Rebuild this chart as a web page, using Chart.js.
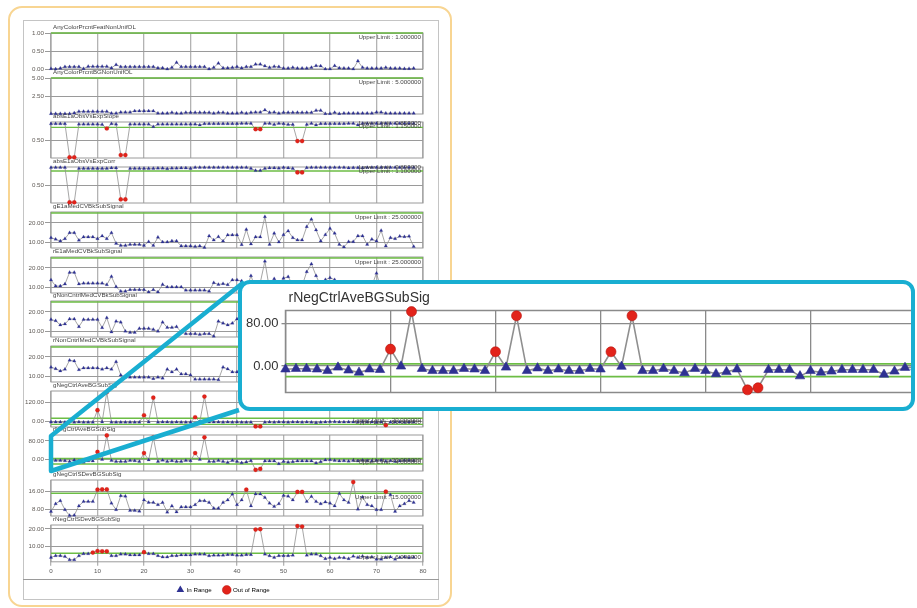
<!DOCTYPE html>
<html>
<head>
<meta charset="utf-8">
<script src="https://cdn.jsdelivr.net/npm/chart.js@4"></script>
<style>
  body { margin: 0; background: #fff; }
  #page { position: relative; width: 917px; height: 608px; overflow: hidden; }
  .frame { position: absolute; left: 8px; top: 6px; width: 440px; height: 597px; border: 2.5px solid #f8d592; border-radius: 14px; }
  .inner { position: absolute; left: 23px; top: 20px; width: 414px; height: 578px; border: 1.5px solid #c4c4c4; }
  .sep { position: absolute; left: 23px; top: 579px; width: 416px; border-top: 1.5px solid #9a9a9a; }
  #callout { position: absolute; left: 0; top: 0; pointer-events: none; }
  #inset { position: absolute; left: 238px; top: 280px; width: 669px; height: 123px; border: 4.5px solid #19aed1; border-radius: 12px; overflow: hidden; background: #fff; }
</style>
</head>
<body>
<div id="page">
  <div class="frame"></div>
  <div class="inner"></div>
  <div class="sep"></div>
  <div id="charts"></div>
  <svg id="callout" width="917" height="608">
    <polyline points="244,282 51,436 51,471 239,410" fill="none" stroke="#19aed1" stroke-width="4.5" stroke-linejoin="round"/>
  </svg>
  <div id="inset"><canvas id="insetChart" width="690" height="123"></canvas></div>
</div>
<script>
// Run-by-run QC panels + zoomed view of rNegCtrlAveBGSubSig.

const RUN = [0,1,2,3,4,5,6,7,8,9,10,11,12,13,14,15,16,17,18,19,20,21,22,23,24,25,26,27,28,29,
  30,31,32,33,34,35,36,37,38,39,40,41,42,43,44,45,46,47,48,49,50,51,52,53,54,55,56,57,58,59,
  60,61,62,63,64,65,66,67,68,69,70,71,72,73,74,75,76,77,78];

const TITLES = ['AnyColorPrcntFeatNonUnifOL', 'AnyColorPrcntBGNonUnifOL', 'absE1aObsVsExpSlope',
  'absE1aObsVsExpCorr', 'gE1aMedCVBkSubSignal', 'rE1aMedCVBkSubSignal', 'gNonCntrlMedCVBkSubSignal',
  'rNonCntrlMedCVBkSubSignal', 'gNegCtrlAveBGSubSig', 'rNegCtrlAveBGSubSig', 'gNegCtrlSDevBGSubSig',
  'rNegCtrlSDevBGSubSig'];

const featNonUnif = [0.01,0.00,0.02,0.06,0.06,0.06,0.06,0.01,0.07,0.07,
  0.07,0.07,0.07,0.03,0.12,0.06,0.06,0.06,0.06,0.06,
  0.06,0.06,0.06,0.03,0.03,0.00,0.04,0.18,0.06,0.06,
  0.06,0.06,0.06,0.06,0.00,0.04,0.16,0.03,0.03,0.04,
  0.06,0.03,0.06,0.06,0.13,0.13,0.08,0.04,0.07,0.06,
  0.02,0.02,0.04,0.02,0.02,0.02,0.04,0.09,0.08,0.00,
  0.00,0.09,0.03,0.02,0.02,0.00,0.22,0.04,0.02,0.02,
  0.02,0.02,0.04,0.02,0.02,0.02,0.01,0.01,0.02];

const bgNonUnif = [0.05,0.05,0.05,0.05,0.05,0.15,0.35,0.35,0.35,0.35,
  0.35,0.35,0.35,0.1,0.1,0.25,0.25,0.25,0.42,0.42,
  0.42,0.42,0.42,0.1,0.1,0.1,0.2,0.1,0.1,0.2,
  0.2,0.2,0.2,0.2,0.2,0.1,0.2,0.2,0.1,0.1,
  0.1,0.2,0.1,0.2,0.25,0.25,0.55,0.2,0.25,0.1,
  0.2,0.2,0.2,0.2,0.2,0.2,0.2,0.5,0.5,0.05,
  0.05,0.2,0.05,0.1,0.1,0.1,0.1,0.1,0.1,0.1,
  0.25,0.25,0.1,0.1,0.1,0.1,0.1,0.1,0.1];

const obsVsExpSlope = [0.95,0.95,0.95,0.95,0.02,0.02,0.94,0.94,0.94,0.94,
  0.94,0.93,0.82,0.95,0.94,0.08,0.08,0.94,0.94,0.94,
  0.94,0.94,0.87,0.94,0.94,0.94,0.94,0.94,0.94,0.94,
  0.94,0.94,0.92,0.95,0.95,0.95,0.95,0.95,0.95,0.95,
  0.95,0.96,0.96,0.96,0.80,0.80,0.96,0.96,0.93,0.96,
  0.95,0.93,0.93,0.47,0.47,0.93,0.96,0.92,0.95,0.95,
  0.95,0.95,0.95,0.95,0.96,0.96,0.92,0.96,0.96,0.96,
  0.96,0.96,0.96,0.96,0.96,0.96,0.96,0.96,0.96];

const obsVsExpCorr = [0.985,0.985,0.985,0.985,0.02,0.02,0.96,0.96,0.96,0.96,
  0.96,0.955,0.96,0.975,0.975,0.10,0.10,0.96,0.96,0.96,
  0.96,0.955,0.96,0.965,0.965,0.95,0.965,0.965,0.97,0.97,
  0.96,0.985,0.985,0.985,0.985,0.985,0.985,0.985,0.985,0.985,
  0.985,0.985,0.985,0.96,0.90,0.90,0.96,0.975,0.975,0.965,
  0.985,0.975,0.96,0.85,0.85,0.98,0.985,0.985,0.985,0.985,
  0.985,0.985,0.985,0.985,0.975,0.98,0.98,0.975,0.985,0.985,
  0.985,0.985,0.985,0.985,0.985,0.985,0.985,0.985,0.985];

const gMedCV = [12.5,11.7,10.8,12.0,15.0,15.0,11.2,12.9,12.9,12.9,
  12.0,13.4,12.0,15.0,9.6,8.6,8.6,9.1,9.1,9.1,
  8.6,10.5,8.6,12.7,10.3,10.3,10.8,10.8,8.3,8.3,
  8.3,8.0,8.3,7.6,13.4,11.3,13.0,10.8,13.9,13.9,
  13.9,9.0,16.7,9.3,12.9,12.9,23.1,9.1,14.7,10.3,
  14.0,15.9,12.5,11.3,11.3,18.1,21.8,16.4,10.8,14.0,
  17.1,14.7,9.1,7.8,10.5,10.5,13.4,13.4,9.1,11.7,
  10.8,16.1,8.3,12.5,12.0,13.2,13.0,13.2,8.0];

const rMedCV = [13.9,10.8,10.8,11.8,17.7,17.7,11.8,12.2,12.2,12.2,
  12.2,12.2,11.5,15.6,10.4,8.2,8.2,9.0,9.0,9.0,
  9.0,7.8,9.0,7.8,11.6,10.3,10.3,10.3,10.3,8.7,
  8.7,8.7,8.7,8.7,8.2,12.5,11.6,12.0,11.5,13.9,
  13.9,13.4,9.0,16.0,9.5,12.5,23.4,9.0,14.5,12.0,
  14.8,15.5,11.5,11.0,11.0,18.0,22.0,16.0,11.0,14.0,
  15.0,14.0,10.0,8.0,10.5,10.5,12.5,12.5,9.0,11.0,
  17.3,9.0,11.5,12.5,12.0,12.5,12.5,12.5,8.5];

const gNonCtrlCV = [16.1,15.5,13.4,13.9,16.4,16.4,12.5,16.1,16.1,16.1,
  16.1,12.0,17.0,9.8,15.2,14.8,10.2,9.6,9.6,11.6,
  11.6,11.6,11.1,10.2,14.8,12.1,12.1,12.5,9.8,8.9,
  8.9,8.9,8.6,8.9,8.9,7.7,15.2,14.3,13.4,14.3,
  16.4,17.0,12.0,15.0,11.0,13.0,16.0,14.0,12.0,13.0,
  15.0,12.0,11.0,14.0,17.0,13.0,12.0,16.0,10.0,13.0,
  15.0,12.0,11.0,14.0,10.0,12.0,13.0,11.0,12.0,15.0,
  16.0,11.0,12.0,13.0,12.0,13.0,12.0,13.0,11.0];

const rNonCtrlCV = [14.8,14.0,12.9,13.7,18.3,17.9,13.5,14.4,14.4,14.4,
  14.4,13.7,14.4,13.7,17.6,10.8,9.7,9.7,9.7,9.7,
  9.7,9.7,9.0,9.7,9.2,13.7,12.4,13.7,11.3,11.3,
  10.8,8.7,8.7,8.7,8.7,8.7,8.4,14.8,13.9,12.4,
  12.4,15.1,14.8,13.0,11.0,14.0,16.0,12.0,13.0,11.0,
  12.0,14.0,13.0,11.0,15.0,12.0,13.0,12.0,11.0,14.0,
  13.0,12.0,11.0,12.0,14.0,12.0,13.0,11.0,12.0,14.0,
  15.0,12.0,11.0,13.0,12.0,13.0,12.0,12.0,11.0];

const gNegAve = [-5,-5,-5,-6,-5,-6,-5,-6,-6,-6,
  72,-4,188,-6,-6,-6,-6,-6,-6,-6,
  39,-5,153,-6,-4,-5,-6,-5,-6,-6,
  -6,26,-3,160,-5,-5,-5,-6,-5,-6,
  -5,-7,-7,-6,-33,-33,-6,-5,-6,-5,
  -5,-7,-5,-5,-6,-5,-6,-9,-6,-5,
  -3,-3,-5,-5,-4,-5,-5,-3,-4,-5,
  -6,-5,-25,-6,-5,-5,-6,-5,-5];

const rNegAve = [-6,-5,-5,-6,-9,-2.5,-8,-12,-6,-7,
  32,-0.5,103,-5,-9,-9,-9,-5,-6,-9,
  27,-2.5,95,-9,-4,-9,-6,-9,-9,-5,
  -6,27,-1,95,-9,-9,-5,-9,-13,-5,
  -9,-15,-11,-6,-45,-41,-7,-7,-7,-19,
  -9,-12,-10,-7,-7,-7,-7,-16,-10,-3,
  -2,-5,-7,-6,-8,-5,-7,-4,-6,-7,
  -5,-4,-8,-6,-9,-7,-5,-5,-6];

const gNegSDev = [6.9,10.3,11.7,7.7,5.1,5.2,9.4,11.3,11.3,11.3,
  16.6,16.7,16.7,10.6,7.7,13.9,13.7,7.3,7.3,7.0,
  12.0,10.9,10.9,9.9,10.9,6.6,9.4,6.7,8.9,8.9,
  8.9,9.9,11.7,11.7,10.9,8.3,8.3,10.9,12.0,14.6,
  9.9,12.0,16.6,9.4,14.7,14.7,13.1,10.6,9.1,10.3,
  14.0,13.7,12.0,15.6,15.6,11.3,13.6,11.3,10.3,11.1,
  10.6,9.4,14.9,12.0,10.9,20.0,7.9,13.4,9.9,9.4,
  7.7,7.7,15.7,14.3,6.9,9.4,10.3,11.7,10.9];

const rNegSDev = [3.6,4.6,4.6,4.1,2.3,2.3,4.5,5.7,5.7,6.4,
  7.3,7.1,7.1,4.5,4.5,5.5,5.5,5.0,5.0,5.0,
  6.6,5.7,5.7,4.6,3.8,3.8,4.6,4.6,5.0,5.0,
  5.0,5.4,5.4,5.4,4.5,4.8,4.8,4.8,5.2,5.2,
  4.8,4.8,5.2,5.2,19.6,19.8,5.5,4.5,3.6,4.6,
  4.6,4.6,4.8,21.6,21.3,4.8,5.5,5.5,4.5,2.9,
  3.6,2.9,3.6,3.4,2.9,4.3,3.6,4.3,3.6,3.9,
  2.5,2.5,3.6,3.9,2.5,3.6,3.9,3.4,3.7];

const SERIES = [featNonUnif, bgNonUnif, obsVsExpSlope, obsVsExpCorr, gMedCV, rMedCV,
  gNonCtrlCV, rNonCtrlCV, gNegAve, rNegAve, gNegSDev, rNegSDev];
const UPPER = [1, 5, 1.15, 1.1, 25, 25, 25, 25, 20, 4, 15, 6];
const LOWER = [null, null, 0.85, 0.89, null, null, null, null, -20, -20, null, null];
const Y_TICKS = [[0, 0.5, 1], [2.5, 5], [0.5], [0.5], [10, 20], [10, 20], [10, 20], [10, 20],
  [0, 120], [0, 80], [8, 16], [10, 20]];
const Y_MIN = [0, 0, 0, 0, 7.3, 7.3, 7.3, 7.3, -37, -50, 4.9, 1.1];
const Y_MAX = [1, 5, 1, 1, 25.5, 25.5, 25.5, 25.5, 196, 105, 20.9, 22.2];
const ZOOM_PANEL = 9;
const ZOOM_RUNS = 60;

const BLUE = '#2e3192';
const RED = '#e2231a';
const LINE = '#8f8f8f';
const GREEN = '#6cbd45';
const FONT = '"Liberation Sans", Arial, sans-serif';

// frame, limit lines, panel title and limit labels
const panelDeco = {
  id: 'panelDeco',
  beforeDatasetsDraw(chart, args, o) {
    const { ctx, chartArea: a } = chart;
    const y = chart.scales.y;
    ctx.save();
    ctx.strokeStyle = o.frameColor;
    ctx.lineWidth = o.frameWidth;
    ctx.strokeRect(a.left, a.top, a.width, a.height);
    ctx.strokeStyle = GREEN;
    ctx.lineWidth = o.limitWidth;
    [o.upper, o.lower].forEach((v) => {
      if (v == null || v > y.max || v < y.min) return;
      const py = y.getPixelForValue(v);
      ctx.beginPath();
      ctx.moveTo(a.left, py);
      ctx.lineTo(a.right, py);
      ctx.stroke();
    });
    ctx.restore();
  },
  afterDatasetsDraw(chart, args, o) {
    const { ctx, chartArea: a } = chart;
    const y = chart.scales.y;
    ctx.save();
    ctx.fillStyle = o.textColor;
    ctx.font = `${o.titleSize}px ${FONT}`;
    ctx.textAlign = 'left';
    ctx.textBaseline = 'bottom';
    ctx.fillText(o.title, a.left + o.titleIndent, a.top - o.titleGap);
    if (o.limitText) {
      ctx.font = `${o.limitSize}px ${FONT}`;
      ctx.textAlign = 'right';
      if (o.upper != null) {
        const py = o.upper > y.max ? a.top : y.getPixelForValue(o.upper);
        ctx.textBaseline = 'top';
        ctx.fillText('Upper Limit : ' + o.upper.toFixed(6), a.right - 2, py + 1);
      }
      if (o.lower != null) {
        ctx.textBaseline = 'bottom';
        ctx.fillText('Lower Limit : ' + o.lower.toFixed(6), a.right - 2, y.getPixelForValue(o.lower) - 1);
      }
    }
    ctx.restore();
  },
};

function makeDataset(vals, up, lo, big) {
  const out = (c) => {
    const v = c.raw ? c.raw.y : null;
    return v != null && ((up != null && v > up) || (lo != null && v < lo));
  };
  return {
    data: RUN.map((x, k) => ({ x, y: vals[k] })),
    borderColor: LINE,
    borderWidth: big ? 1.6 : 0.8,
    pointStyle: (c) => out(c) ? 'circle' : 'triangle',
    pointRadius: (c) => out(c) ? (big ? 5 : 2.1) : (big ? 5.5 : 2),
    pointBackgroundColor: (c) => out(c) ? RED : BLUE,
    pointBorderColor: (c) => out(c) ? '#b5140f' : BLUE,
    pointBorderWidth: big ? 0.6 : 0.2,
    tension: 0,
    clip: false,
  };
}

const PANEL_TOP = 33, PANEL_STEP = 44.7, PANEL_H = 36;
const TITLE_SPACE = 12, X_AXIS_H = 13, LEGEND_H = 29;

const holder = document.getElementById('charts');
SERIES.forEach((vals, i) => {
  const last = i === SERIES.length - 1;
  const cv = document.createElement('canvas');
  const top = Math.round(PANEL_TOP + PANEL_STEP * i) - TITLE_SPACE;
  cv.width = 414;
  cv.height = TITLE_SPACE + PANEL_H + (last ? X_AXIS_H + LEGEND_H : 5);
  cv.style.cssText = `position:absolute;left:24px;top:${top}px;`;
  holder.appendChild(cv);

  new Chart(cv, {
    type: 'line',
    data: { datasets: [makeDataset(vals, UPPER[i], LOWER[i], false)] },
    plugins: [panelDeco],
    options: {
      responsive: false,
      animation: false,
      events: [],
      layout: { padding: { top: TITLE_SPACE, bottom: last ? 0 : 5, left: 0, right: 15 } },
      scales: {
        x: {
          type: 'linear', min: 0, max: 80,
          ticks: { display: last, stepSize: 10, font: { size: 6.2, family: FONT }, color: '#555', padding: 2 },
          grid: { color: '#b3b3b3', lineWidth: 1.3, drawTicks: last, tickLength: 4 },
          border: { display: false },
          afterFit: (s) => { s.height = last ? X_AXIS_H : 0; },
        },
        y: {
          min: Y_MIN[i], max: Y_MAX[i],
          afterBuildTicks: (s) => { s.ticks = Y_TICKS[i].map((v) => ({ value: v })); },
          ticks: { font: { size: 6.2, family: FONT }, color: '#5f5a55', padding: 1, callback: (v) => Number(v).toFixed(2) },
          grid: { color: '#9a9a9a', lineWidth: 1, tickLength: 6 },
          border: { display: false },
          afterFit: (s) => { s.width = 27; },
        },
      },
      plugins: {
        tooltip: { enabled: false },
        legend: {
          display: last,
          position: 'bottom',
          labels: {
            usePointStyle: true, boxWidth: 7, boxHeight: 7, padding: 12,
            font: { size: 6.2, family: FONT }, color: '#333',
            generateLabels: () => [
              { text: 'In Range', pointStyle: 'triangle', fillStyle: BLUE, strokeStyle: BLUE, lineWidth: 0, hidden: false, datasetIndex: 0 },
              { text: 'Out of Range', pointStyle: 'circle', fillStyle: RED, strokeStyle: '#b5140f', lineWidth: 0.5, hidden: false, datasetIndex: 0 },
            ],
          },
        },
        panelDeco: {
          title: TITLES[i], upper: UPPER[i], lower: LOWER[i], limitText: true,
          titleSize: 6.2, titleIndent: 2, titleGap: 3, limitSize: 6.2,
          textColor: '#444', frameColor: '#9a9a9a', frameWidth: 1, limitWidth: 1.4,
        },
      },
    },
  });
});

// zoomed inset of rNegCtrlAveBGSubSig
new Chart(document.getElementById('insetChart'), {
  type: 'line',
  data: { datasets: [makeDataset(SERIES[ZOOM_PANEL], UPPER[ZOOM_PANEL], LOWER[ZOOM_PANEL], true)] },
  plugins: [panelDeco],
  options: {
    responsive: false,
    animation: false,
    events: [],
    layout: { padding: { top: 26.5, bottom: 14.5, left: 0, right: 16.5 } },
    scales: {
      x: {
        type: 'linear', min: 0, max: ZOOM_RUNS,
        ticks: { display: false, stepSize: 10 },
        grid: { color: '#8a8a8a', lineWidth: 1.3, drawTicks: false },
        border: { display: false },
        afterFit: (s) => { s.height = 0; },
      },
      y: {
        min: Y_MIN[ZOOM_PANEL], max: Y_MAX[ZOOM_PANEL],
        afterBuildTicks: (s) => { s.ticks = Y_TICKS[ZOOM_PANEL].map((v) => ({ value: v })); },
        ticks: { font: { size: 13, family: FONT }, color: '#333', padding: 3, callback: (v) => Number(v).toFixed(2) },
        grid: { color: '#8a8a8a', lineWidth: 1.3, tickLength: 4 },
        border: { display: false },
        afterFit: (s) => { s.width = 43.5; },
      },
    },
    plugins: {
      tooltip: { enabled: false },
      legend: { display: false },
      panelDeco: {
        title: TITLES[ZOOM_PANEL], upper: UPPER[ZOOM_PANEL], lower: LOWER[ZOOM_PANEL], limitText: false,
        titleSize: 14, titleIndent: 3, titleGap: 5, limitSize: 13,
        textColor: '#333', frameColor: '#8a8a8a', frameWidth: 1.5, limitWidth: 1.8,
      },
    },
  },
});
</script>
</body>
</html>
